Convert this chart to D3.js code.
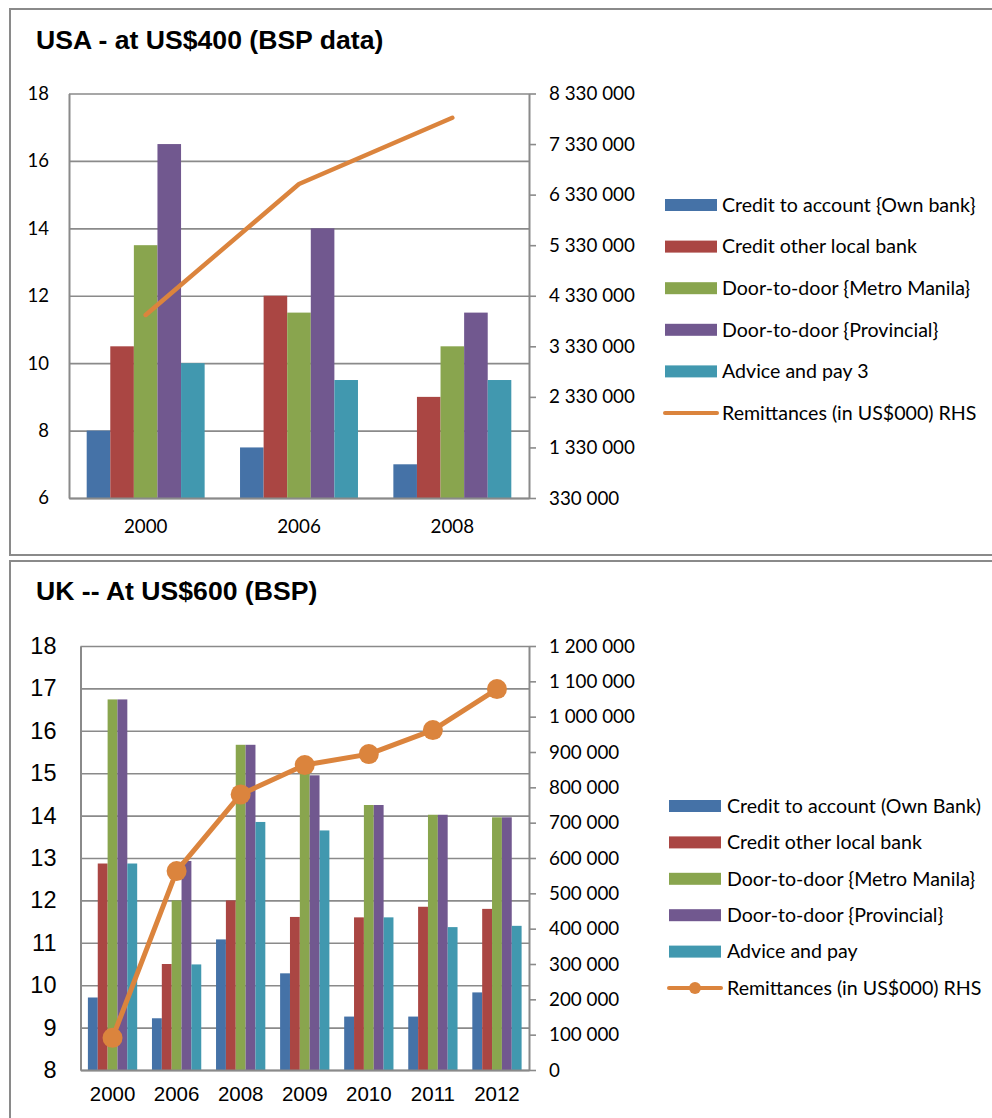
<!DOCTYPE html>
<html>
<head>
<meta charset="utf-8">
<script src="https://cdn.jsdelivr.net/npm/d3@7"></script>
<style>
  body { margin: 0; background: #fff; }
  svg { display: block; }
</style>
</head>
<body>
<svg id="chart" width="992" height="1118"></svg>
<script>
// ---- USA panel data ----
const usaYears = ["2000", "2006", "2008"];
const usaCreditOwn = [8, 7.5, 7];
const usaCreditOther = [10.5, 12, 9];
const usaMetroManila = [13.5, 11.5, 10.5];
const usaProvincial = [16.5, 14, 11.5];
const usaAdvicePay = [10, 9.5, 9.5];
const usaRemittances = [3950000, 6540000, 7850000];
const usaLeftTicks = [6, 8, 10, 12, 14, 16, 18];
const usaRightTicks = [330000, 1330000, 2330000, 3330000, 4330000, 5330000, 6330000, 7330000, 8330000];
const usaLegend = [
  "Credit to account {Own bank}",
  "Credit other local bank",
  "Door-to-door {Metro Manila}",
  "Door-to-door {Provincial}",
  "Advice and pay 3",
  "Remittances (in US$000) RHS"
];

// ---- UK panel data ----
const ukYears = ["2000", "2006", "2008", "2009", "2010", "2011", "2012"];
const ukCreditOwn = [9.71, 9.22, 11.08, 10.28, 9.26, 9.26, 9.83];
const ukCreditOther = [12.87, 10.5, 12.0, 11.61, 11.6, 11.85, 11.8];
const ukMetroManila = [16.74, 12.0, 15.67, 15.0, 14.25, 14.02, 13.96];
const ukProvincial = [16.74, 12.93, 15.67, 14.95, 14.25, 14.02, 13.96];
const ukAdvicePay = [12.87, 10.49, 13.85, 13.65, 11.6, 11.37, 11.4];
const ukRemittances = [91000, 563000, 780000, 863000, 894000, 962000, 1078000];
const ukLeftTicks = [8, 9, 10, 11, 12, 13, 14, 15, 16, 17, 18];
const ukRightTicks = [0, 100000, 200000, 300000, 400000, 500000, 600000, 700000, 800000, 900000, 1000000, 1100000, 1200000];
const ukLegend = [
  "Credit to account (Own Bank)",
  "Credit other local bank",
  "Door-to-door {Metro Manila}",
  "Door-to-door {Provincial}",
  "Advice and pay",
  "Remittances (in US$000) RHS"
];

const barColors = ["#4572A7", "#AA4643", "#89A54E", "#71588F", "#4198AF"];
const lineColor = "#DB843D";
const gridColor = "#8a8a8a";
const calibriLike = "Lato, 'Open Sans', sans-serif";
const arialLike = "'Liberation Sans', Arial, sans-serif";

const spaceFormat = d3.formatLocale({ decimal: ".", thousands: " ", grouping: [3], currency: ["", ""] }).format(",");

const svg = d3.select("#chart");

function drawPanel(p) {
  const g = svg.append("g");

  // frame around the panel
  g.append("rect")
    .attr("x", p.frame[0]).attr("y", p.frame[1])
    .attr("width", p.frame[2]).attr("height", p.frame[3])
    .attr("fill", "none").attr("stroke", gridColor).attr("stroke-width", 2);

  g.append("text")
    .attr("x", 36).attr("y", p.titleY)
    .attr("font-family", arialLike).attr("font-weight", "bold")
    .attr("font-size", 26.6).attr("fill", "#000")
    .text(p.title);

  const x = d3.scaleBand().domain(p.categories).range([p.left, p.right]);
  const barW = x.bandwidth() / 6.5; // gap width 150 %
  const xs = d3.scaleBand().domain(d3.range(p.series.length)).range([0.75 * barW, 5.75 * barW]);
  const yL = d3.scaleLinear().domain(d3.extent(p.leftTicks)).range([p.bottom, p.top]);
  const yR = d3.scaleLinear().domain(d3.extent(p.rightTicks)).range([p.bottom, p.top]);

  // horizontal gridlines
  const grid = g.append("g")
    .attr("transform", `translate(${p.left},0)`)
    .call(d3.axisLeft(yL).tickValues(p.leftTicks).tickSize(-(p.right - p.left)).tickFormat(""));
  grid.select(".domain").remove();
  grid.selectAll("line").attr("stroke", gridColor).attr("stroke-width", 1.6);

  // clustered bars
  const groups = g.append("g").selectAll("g")
    .data(p.series)
    .join("g")
    .attr("fill", (d, i) => barColors[i]);
  groups.selectAll("rect")
    .data((s, si) => s.map((v, ci) => ({ v, ci, si })))
    .join("rect")
    .attr("x", d => x(p.categories[d.ci]) + xs(d.si))
    .attr("width", xs.bandwidth())
    .attr("y", d => yL(d.v))
    .attr("height", d => yL(p.leftTicks[0]) - yL(d.v));

  // left value axis labels
  const left = g.append("g")
    .attr("transform", `translate(${p.left},0)`)
    .call(d3.axisLeft(yL).tickValues(p.leftTicks).tickSize(0).tickPadding(p.leftPad).tickFormat(d3.format("d")));
  left.select(".domain").attr("stroke", gridColor).attr("stroke-width", 2);
  left.selectAll("text").attr("font-family", p.leftFont).attr("font-size", p.leftSize).attr("fill", "#000");

  // category axis
  const bottom = g.append("g")
    .attr("transform", `translate(0,${p.bottom})`)
    .call(d3.axisBottom(x).tickSize(0).tickPadding(p.xPad));
  bottom.select(".domain").attr("stroke", gridColor).attr("stroke-width", 2.2);
  bottom.selectAll("text").attr("font-family", p.xFont).attr("font-size", p.xSize).attr("fill", "#000");

  // secondary (right) axis
  const right = g.append("g")
    .attr("transform", `translate(${p.right},0)`)
    .call(d3.axisRight(yR).tickValues(p.rightTicks).tickSize(7).tickSizeOuter(0).tickPadding(13).tickFormat(spaceFormat));
  right.select(".domain").attr("stroke", gridColor).attr("stroke-width", 2);
  right.selectAll("line").attr("stroke", gridColor).attr("stroke-width", 1.6);
  right.selectAll("text").attr("font-family", calibriLike).attr("font-size", 18.8).attr("fill", "#000");

  // remittances line on the right axis
  const line = d3.line()
    .x((d, i) => x(p.categories[i]) + x.bandwidth() / 2)
    .y(d => yR(d));
  g.append("path")
    .datum(p.line)
    .attr("d", line)
    .attr("fill", "none")
    .attr("stroke", lineColor)
    .attr("stroke-width", p.lineWidth)
    .attr("stroke-linejoin", "round")
    .attr("stroke-linecap", "round");
  if (p.markerR) {
    g.append("g").selectAll("circle")
      .data(p.line)
      .join("circle")
      .attr("cx", (d, i) => x(p.categories[i]) + x.bandwidth() / 2)
      .attr("cy", d => yR(d))
      .attr("r", p.markerR)
      .attr("fill", lineColor);
  }

  // legend
  const leg = g.append("g").selectAll("g")
    .data(p.legend)
    .join("g")
    .attr("transform", (d, i) => `translate(${p.legendX},${p.legendY + i * p.legendStep})`);
  leg.each(function (d, i) {
    const row = d3.select(this);
    if (i < p.series.length) {
      row.append("rect")
        .attr("x", 0).attr("y", -6).attr("width", 52).attr("height", 12)
        .attr("fill", barColors[i]);
    } else {
      row.append("line")
        .attr("x1", 0).attr("x2", 52).attr("y1", 0).attr("y2", 0)
        .attr("stroke", lineColor).attr("stroke-width", 4).attr("stroke-linecap", "round");
      if (p.markerR) {
        row.append("circle").attr("cx", 26).attr("cy", 0).attr("r", 6).attr("fill", lineColor);
      }
    }
    row.append("text")
      .attr("x", p.legendTextX).attr("y", 0).attr("dy", "0.35em")
      .attr("font-family", calibriLike).attr("font-size", 19.6).attr("fill", "#000")
      .text(d);
  });
}

drawPanel({
  frame: [10, 9, 1000, 546],
  title: "USA - at US$400 (BSP data)",
  titleY: 49,
  categories: usaYears,
  series: [usaCreditOwn, usaCreditOther, usaMetroManila, usaProvincial, usaAdvicePay],
  line: usaRemittances,
  leftTicks: usaLeftTicks,
  rightTicks: usaRightTicks,
  left: 69, right: 529, top: 93.5, bottom: 498,
  leftPad: 20, leftFont: calibriLike, leftSize: 18.5,
  xPad: 22, xFont: calibriLike, xSize: 18.8,
  lineWidth: 4.5, markerR: 0,
  legend: usaLegend,
  legendX: 665, legendY: 205, legendStep: 41.6, legendTextX: 57
});

drawPanel({
  frame: [10, 561, 1000, 600],
  title: "UK -- At US$600 (BSP)",
  titleY: 600,
  categories: ukYears,
  series: [ukCreditOwn, ukCreditOther, ukMetroManila, ukProvincial, ukAdvicePay],
  line: ukRemittances,
  leftTicks: ukLeftTicks,
  rightTicks: ukRightTicks,
  left: 80.5, right: 529, top: 646, bottom: 1070,
  leftPad: 24, leftFont: arialLike, leftSize: 23.5,
  xPad: 16, xFont: arialLike, xSize: 20.5,
  lineWidth: 5, markerR: 10,
  legend: ukLegend,
  legendX: 669, legendY: 806, legendStep: 36.4, legendTextX: 58
});
</script>
</body>
</html>
